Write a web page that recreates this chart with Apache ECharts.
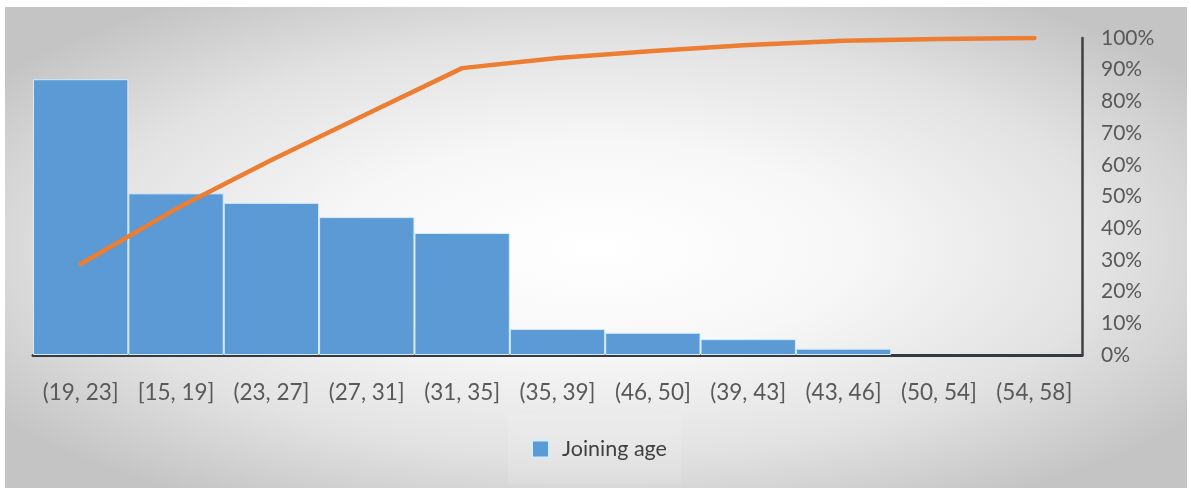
<!DOCTYPE html>
<html>
<head>
<meta charset="utf-8">
<script src="https://cdn.jsdelivr.net/npm/echarts@6/dist/echarts.min.js"></script>
<style>
  html, body { margin: 0; padding: 0; background: #ffffff; }
  #chart { width: 1191px; height: 490px; }
</style>
</head>
<body>
<div id="chart"></div>
<script>
// Age bands, sorted by frequency (Pareto order)
const categories = ['(19, 23]', '[15, 19]', '(23, 27]', '(27, 31]', '(31, 35]', '(35, 39]',
                    '(46, 50]', '(39, 43]', '(43, 46]', '(50, 54]', '(54, 58]'];
// Number of members in each band
const counts = [87, 51, 48, 43.5, 38.5, 8.2, 7, 5, 2, 0, 0];
// Cumulative share, in percent
const cumulative = [28.7, 46.1, 61.5, 76.0, 90.5, 93.7, 95.9, 97.8, 99.1, 99.7, 100];
const percentTicks = [0, 10, 20, 30, 40, 50, 60, 70, 80, 90, 100];

const chart = echarts.init(document.getElementById('chart'), null, { renderer: 'canvas' });

const FONT = 'Lato';
const W = 1182, H = 481;

// empty bands get no outline, so nothing is drawn on the baseline
const barData = counts.map(function (v) {
  return v === 0 ? { value: v, itemStyle: { borderWidth: 0 } } : v;
});

chart.setOption({
  animation: false,
  graphic: [
    {
      type: 'rect',
      z: -10,
      silent: true,
      x: 5, y: 7,
      scaleX: W / H, scaleY: 1,
      shape: { x: 0, y: 0, width: H, height: H },
      style: {
        fill: {
          type: 'radial', x: 0.5, y: 0.5, r: 0.62,
          colorStops: [
            { offset: 0, color: '#ffffff' },
            { offset: 0.35, color: '#f7f7f7' },
            { offset: 0.7, color: '#e2e2e2' },
            { offset: 1, color: '#c4c4c4' }
          ]
        }
      }
    }
  ],
  grid: { left: 33, right: 109, top: 38, bottom: 135, containLabel: false },
  legend: {
    data: [{ name: 'Joining age', icon: 'rect' }],
    left: 508,
    top: 415,
    itemWidth: 17,
    itemHeight: 17,
    padding: [23, 14, 24, 23],
    backgroundColor: 'rgba(255,255,255,0.12)',
    textStyle: { fontFamily: FONT, fontSize: 21.5, color: '#404040', padding: [0, 0, 0, 8] }
  },
  xAxis: {
    type: 'category',
    data: categories,
    axisLine: { show: true, lineStyle: { color: '#353a40', width: 3 } },
    axisTick: { show: false },
    axisLabel: { margin: 26, fontFamily: FONT, fontSize: 22.5, color: '#595959', interval: 0 },
    splitLine: { show: false }
  },
  yAxis: [
    {
      type: 'value',
      min: 0, max: 100,
      show: false
    },
    {
      type: 'value',
      position: 'right',
      min: 0, max: 100, interval: 10,
      axisLine: { show: true, lineStyle: { color: '#404040', width: 2.5 } },
      axisTick: { show: false },
      splitLine: { show: false },
      axisLabel: {
        margin: 19,
        fontFamily: FONT, fontSize: 21, color: '#595959',
        formatter: function (v) { return percentTicks.indexOf(v) >= 0 ? v + '%' : ''; }
      }
    }
  ],
  series: [
    {
      name: 'Joining age',
      type: 'bar',
      yAxisIndex: 0,
      data: barData,
      barCategoryGap: 0,
      itemStyle: { color: '#5b9ad5', borderColor: '#d4ecfb', borderWidth: 1 }
    },
    {
      name: 'Cumulative',
      type: 'line',
      yAxisIndex: 1,
      data: cumulative,
      showSymbol: false,
      symbol: 'none',
      lineStyle: { color: '#ed7d31', width: 4.5, cap: 'round', join: 'round' },
      z: 5
    }
  ]
});
</script>
</body>
</html>
